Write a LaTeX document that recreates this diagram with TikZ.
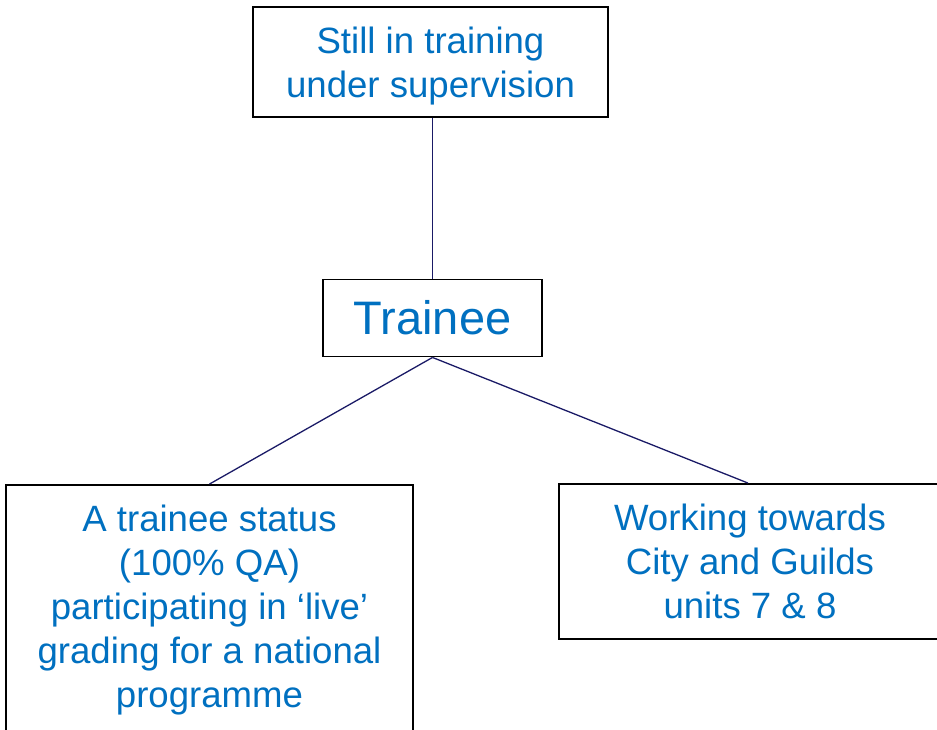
\documentclass[tikz,border=0pt]{standalone}
\usepackage{fontspec}
\setmainfont{Liberation Sans}
\definecolor{txtblue}{HTML}{0070C0}
\definecolor{navy}{HTML}{1A1A66}
\begin{document}
\begin{tikzpicture}[x=1pt,y=-1pt,
  box/.style={draw=black,line width=1.9pt,fill=white,text=txtblue,align=center,
    inner sep=0pt,font=\fontsize{36.6}{44}\selectfont},
  link/.style={draw=navy,line width=1.3pt}]
\useasboundingbox (0,0) rectangle (937,729);
\clip (0,0) rectangle (937,729);
\node[box,minimum width=355pt,minimum height=110pt,text height=75pt,text depth=4pt] (top) at (430.5,62) {Still in training\\under supervision};
\node[box,minimum width=219pt,minimum height=77pt,font=\fontsize{47}{56}\selectfont] (trainee) at (432.5,318) {Trainee};
\node[box,minimum width=407pt,minimum height=250pt] (left) at (209.5,610) {A trainee status\\(100\% QA)\\participating in ‘live’\\grading for a national\\programme};
\node[box,minimum width=382pt,minimum height=155pt] (right) at (750,561.5) {Working towards\\City and Guilds\\units 7 \& 8};
\draw[link] (trainee.north) -- (trainee.north |- top.south);
\draw[link] (trainee.south) -- (left.north);
\draw[link] (trainee.south) -- ([xshift=-2pt]right.north);
\end{tikzpicture}
\end{document}
